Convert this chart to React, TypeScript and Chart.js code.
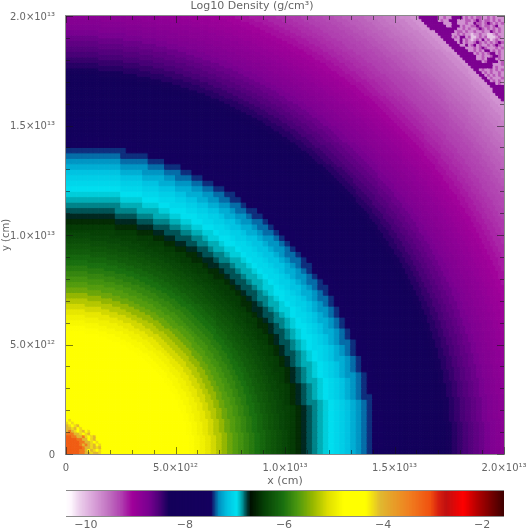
import React, { useEffect, useRef } from "react";
import { Chart, registerables } from "chart.js";

Chart.register(...registerables);

const titleText = "Log10 Density (g/cm³)";
const xTitle = "x (cm)";
const yTitle = "y (cm)";
const axisMax = 2e13;
const axisTicks = [0, 5e12, 1e13, 1.5e13, 2e13];
const axisTickLabels = ["0", "5.0×10¹²", "1.0×10¹³", "1.5×10¹³", "2.0×10¹³"];
const barTicks = [-10, -8, -6, -4, -2];
const barMin = -10.4;
const barMax = -1.56;

// colour table: log10 density -> colour
const cmapValues = [-10.4, -10.28, -10.12, -9.82, -9.52, -9.27, -9.05, -8.71, -8.51, -8.31, -7.46, -7.38, -7.3, -7.14, -6.94, -6.84, -6.74, -6.66, -6.39, -6.0, -5.7, -5.4, -5.09, -4.78, -4.34, -4.04, -3.47, -3.03, -2.87, -2.71, -2.37, -2.07, -1.56];
const cmapColors = ["#ffffff", "#fdf5fd", "#ecd0ec", "#d8a0d8", "#c070c0", "#b040b0", "#a0009a", "#780090", "#4c0078", "#14005a", "#14005e", "#0a4a90", "#0090c0", "#00c0e0", "#00e0f0", "#00a0a8", "#004040", "#001000", "#064006", "#1a7010", "#4f9a10", "#98b800", "#e0e000", "#ffff00", "#ffff00", "#e0b830", "#f08020", "#f05010", "#d82010", "#c01010", "#ff0000", "#b00000", "#400000"];

// log10 density per radial shell; each shell is 2.5e11 cm wide
const shellWidth = 2.5e11;
const shellDensity = [
  -4.36, -4.36, -4.36, -4.36, -4.36, -4.37, -4.38, -4.39, -4.4, -4.41,
  -4.43, -4.45, -4.47, -4.49, -4.51, -4.53, -4.56, -4.59, -4.62, -4.65,
  -4.68, -4.72, -4.76, -4.8, -4.85, -4.92, -5.02, -5.15, -5.28, -5.42,
  -5.58, -5.68, -5.76, -5.84, -5.92, -6.0, -6.08, -6.16, -6.22, -6.28,
  -6.33, -6.38, -6.42, -6.5, -6.7, -6.76, -6.81, -6.86, -6.91, -6.95,
  -7.0, -7.05, -7.12, -7.2, -7.28, -7.34, -7.41, -7.47, -7.55, -7.6,
  -7.66, -7.72, -7.78, -7.84, -7.9, -7.96, -8.02, -8.1, -8.2, -8.26,
  -8.32, -8.38, -8.44, -8.5, -8.55, -8.6, -8.65, -8.72, -8.78, -8.82,
  -8.86, -8.9, -8.94, -8.98, -9.02, -9.06, -9.1, -9.14, -9.18, -9.21,
  -9.24, -9.27, -9.3, -9.34, -9.38, -9.42, -9.46, -9.5, -9.54, -9.58,
  -9.62, -9.68, -9.74, -8.75,
];

// irregular outer region, top-right of the plot: rows from the top, columns from col 127 of 160
const cornerFirstCol = 127;
const cornerRows = [
  "..dddddddllmllddddlmlmlmmllmlmlll",
  "...ddddddlmlldddlllmmlmdmlmmlmlml",
  "....dddddddlllddlllmlldmmlmdmlmlm",
  ".....dddddddlldddlmllmmdmlmmlmdll",
  "......ddddddddddllmlmllmdmlmlmlml",
  "........dddddddlmmlmllmllmlldmlml",
  ".........dddddllmlmllwllmllwwlmll",
  "..........ddddlmlddlmwwlmlmwwwlml",
  "...........ddddlldlmlwlmldlmwlmll",
  "............ddddldlmllmdmlmlmlmdm",
  ".............ddddlldlmdlmllmlmdml",
  "..............dddddlllmlmdmlllmlm",
  "...............dddddllmlmlddlmlml",
  ".................dddddlmlmlmddlml",
  "..................dddddllmllmddml",
  "...................ddddllmldddlml",
  "....................dddddlmddddlm",
  ".....................ddddddddlllm",
  "......................dddddddlmll",
  ".......................dlmllmlmlm",
  ".......................ddlmlmllml",
  "........................ddlmlmlml",
  ".........................ddlmlllm",
  "..........................ddlmlml",
  "...........................dddlml",
  "............................ddddd",
  ".............................dddd",
  "..............................ddd",
  "...............................dd",
  "................................d",
];
// irregular core near the origin: rows from the bottom, columns from the left
const coreRows = [
  "oooooOOgghgghy",
  "oooooOOgyghyh",
  "ooooooOgghghg",
  "oooooOgOghgyh",
  "oooooOOgghyh",
  "ooooOOggyhg",
  "ooOOggOhyhg",
  "OOOgghyhg",
  "gOghyhgyh",
  "gghgyhy",
  "ghyhg",
  "hyh",
  "yh",
];
const mapCodes = ["d", "l", "m", "w", "o", "O", "g", "h"];
const mapDensity = [-8.75, -9.72, -9.4, -10.05, -3.15, -3.4, -4.02, -4.18];

const coarseCells = 80;
const coarseBand = [1.03e13, 1.45e13];
const plotSide = 438;
const textColor = "#666666";
const textFont = { family: "'DejaVu Sans'", size: 11 };
const tickFont = { family: "'DejaVu Sans'", size: 10 };

function hexRgb(h: string) {
  return [parseInt(h.slice(1, 3), 16), parseInt(h.slice(3, 5), 16), parseInt(h.slice(5, 7), 16)];
}
function colorFor(v: number) {
  if (v <= cmapValues[0]) return cmapColors[0];
  for (let i = 1; i < cmapValues.length; i++) {
    if (v <= cmapValues[i]) {
      const t = (v - cmapValues[i - 1]) / (cmapValues[i] - cmapValues[i - 1]);
      const a = hexRgb(cmapColors[i - 1]);
      const b = hexRgb(cmapColors[i]);
      return `rgb(${Math.round(a[0] + (b[0] - a[0]) * t)},${Math.round(a[1] + (b[1] - a[1]) * t)},${Math.round(a[2] + (b[2] - a[2]) * t)})`;
    }
  }
  return cmapColors[cmapColors.length - 1];
}
function shellAt(x: number, y: number) {
  const i = Math.round(Math.hypot(x, y) / shellWidth);
  return shellDensity[Math.min(i, shellDensity.length - 1)];
}
function fineDensity(col: number, row: number, x: number, y: number) {
  const fromTop = 159 - row;
  if (col >= cornerFirstCol && fromTop < cornerRows.length) {
    const s = cornerRows[fromTop];
    const c = s[col - cornerFirstCol] ?? "l";
    const k = mapCodes.indexOf(c);
    if (k >= 0) return mapDensity[k];
    return shellAt(x, y);
  }
  if (row < coreRows.length) {
    const c = coreRows[row][col];
    const k = c ? mapCodes.indexOf(c) : -1;
    if (k >= 0) return mapDensity[k];
  }
  return shellAt(x, y);
}

function buildCells() {
  const pts: { x: number; y: number }[] = [];
  const colors: string[] = [];
  const radii: number[] = [];
  const coarse = axisMax / coarseCells;
  const fine = coarse / 2;
  const coarseR = plotSide / coarseCells / Math.SQRT2;
  const fineR = coarseR / 2;
  for (let j = 0; j < coarseCells; j++) {
    for (let i = 0; i < coarseCells; i++) {
      const cx = (i + 0.5) * coarse;
      const cy = (j + 0.5) * coarse;
      const r = Math.hypot(cx, cy);
      if (r >= coarseBand[0] && r <= coarseBand[1]) {
        pts.push({ x: cx, y: cy });
        colors.push(colorFor(shellAt(cx, cy)));
        radii.push(coarseR);
      } else {
        for (let b = 0; b < 2; b++) {
          for (let a = 0; a < 2; a++) {
            const col = i * 2 + a;
            const row = j * 2 + b;
            const x = (col + 0.5) * fine;
            const y = (row + 0.5) * fine;
            pts.push({ x, y });
            colors.push(colorFor(fineDensity(col, row, x, y)));
            radii.push(fineR);
          }
        }
      }
    }
  }
  return { pts, colors, radii };
}

const frameTicks = {
  id: "frameTicks",
  afterDatasetsDraw(chart: any) {
    const { ctx, chartArea: a, scales } = chart;
    ctx.save();
    ctx.lineWidth = 1;
    ctx.strokeStyle = "rgba(20,20,20,0.55)";
    ctx.beginPath();
    for (let k = 0; k <= 20; k++) {
      const v = k * 1e12;
      const len = k % 5 === 0 ? 7 : 4;
      const px = Math.round(scales.x.getPixelForValue(v)) + 0.5;
      const py = Math.round(scales.y.getPixelForValue(v)) + 0.5;
      ctx.moveTo(px, a.bottom);
      ctx.lineTo(px, a.bottom - len);
      ctx.moveTo(px, a.top);
      ctx.lineTo(px, a.top + len);
      ctx.moveTo(a.left, py);
      ctx.lineTo(a.left + len, py);
      ctx.moveTo(a.right, py);
      ctx.lineTo(a.right - len, py);
    }
    ctx.stroke();
    ctx.strokeStyle = "rgba(60,60,60,0.6)";
    ctx.strokeRect(a.left - 0.5, a.top - 0.5, a.right - a.left + 1, a.bottom - a.top + 1);
    ctx.restore();
  },
};

const barFrame = {
  id: "barFrame",
  afterDatasetsDraw(chart: any) {
    const { ctx, chartArea: a } = chart;
    ctx.save();
    ctx.strokeStyle = "#8a8a8a";
    ctx.lineWidth = 1;
    ctx.beginPath();
    ctx.moveTo(a.left, a.top - 0.5);
    ctx.lineTo(a.right, a.top - 0.5);
    ctx.moveTo(a.left, a.bottom + 0.5);
    ctx.lineTo(a.right, a.bottom + 0.5);
    ctx.stroke();
    ctx.restore();
  },
};

export default function App() {
  const mainRef = useRef<HTMLCanvasElement>(null);
  const barRef = useRef<HTMLCanvasElement>(null);

  useEffect(() => {
    const { pts, colors, radii } = buildCells();
    const main = new Chart(mainRef.current!, {
      type: "scatter",
      data: {
        datasets: [
          {
            label: "Log10 density",
            data: pts,
            backgroundColor: colors,
            borderColor: colors,
            borderWidth: 1,
            pointStyle: "rect",
            pointRadius: radii,
            pointHoverRadius: radii,
          } as any,
        ],
      },
      plugins: [frameTicks],
      options: {
        responsive: false,
        animation: false,
        events: [],
        layout: { autoPadding: false, padding: { left: 0, right: 23, top: 0, bottom: 0 } },
        plugins: {
          legend: { display: false },
          tooltip: { enabled: false },
          title: {
            display: true,
            text: titleText,
            color: textColor,
            font: { ...textFont, weight: "normal", lineHeight: "13px" },
            padding: { top: 0, bottom: 3 },
          },
        },
        scales: {
          x: {
            type: "linear",
            min: 0,
            max: axisMax,
            afterBuildTicks: (s: any) => {
              s.ticks = axisTicks.map((value) => ({ value }));
            },
            afterFit: (s: any) => {
              s.height = 36;
              s.paddingLeft = 0;
              s.paddingRight = 0;
            },
            ticks: {
              maxRotation: 0,
              autoSkip: false,
              color: textColor,
              font: tickFont,
              padding: 0,
              callback: (v: any) => axisTickLabels[axisTicks.indexOf(Number(v))],
            },
            grid: { display: false },
            border: { display: false },
            title: { display: true, text: xTitle, color: textColor, font: textFont, padding: { top: 0, bottom: 2 } },
          },
          y: {
            type: "linear",
            min: 0,
            max: axisMax,
            afterBuildTicks: (s: any) => {
              s.ticks = axisTicks.map((value) => ({ value }));
            },
            afterFit: (s: any) => {
              s.width = 66;
            },
            ticks: {
              autoSkip: false,
              color: textColor,
              font: tickFont,
              padding: 3,
              labelOffset: 1,
              callback: (v: any) => axisTickLabels[axisTicks.indexOf(Number(v))],
            },
            grid: { display: false },
            border: { display: false },
            title: { display: true, text: yTitle, color: textColor, font: tickFont, padding: { top: 0, bottom: 0 } },
          },
        },
      } as any,
    });

    const levels: number[] = [];
    for (let v = barMin; v < barMax; v += (barMax - barMin) / 300) levels.push(v);
    const bar = new Chart(barRef.current!, {
      type: "bar",
      data: {
        datasets: [
          {
            label: "Colour scale",
            data: levels.map((x) => ({ x, y: 1 })),
            backgroundColor: levels.map(colorFor),
            barThickness: 2.2,
          } as any,
        ],
      },
      plugins: [barFrame],
      options: {
        responsive: false,
        animation: false,
        events: [],
        layout: { autoPadding: false, padding: { left: 66, right: 23, top: 11, bottom: 0 } },
        plugins: { legend: { display: false }, tooltip: { enabled: false } },
        scales: {
          x: {
            type: "linear",
            offset: false,
            min: barMin,
            max: barMax,
            afterBuildTicks: (s: any) => {
              s.ticks = barTicks.map((value) => ({ value }));
            },
            afterFit: (s: any) => {
              s.height = 16;
            },
            ticks: {
              maxRotation: 0,
              autoSkip: false,
              color: textColor,
              font: textFont,
              padding: 3,
              callback: (v: any) => "−" + Math.abs(Number(v)),
            },
            grid: { display: false, drawTicks: false },
            border: { display: false },
          },
          y: { display: false, min: 0, max: 1 },
        },
      } as any,
    });
    return () => {
      main.destroy();
      bar.destroy();
    };
  }, []);

  return (
    <div style={{ position: "absolute", left: 0, top: 0, width: 527, height: 532, overflow: "hidden", background: "#fff" }}>
      <canvas ref={mainRef} width={527} height={490} style={{ position: "absolute", left: 0, top: 0 }} />
      <canvas ref={barRef} width={527} height={52} style={{ position: "absolute", left: 0, top: 480 }} />
    </div>
  );
}
